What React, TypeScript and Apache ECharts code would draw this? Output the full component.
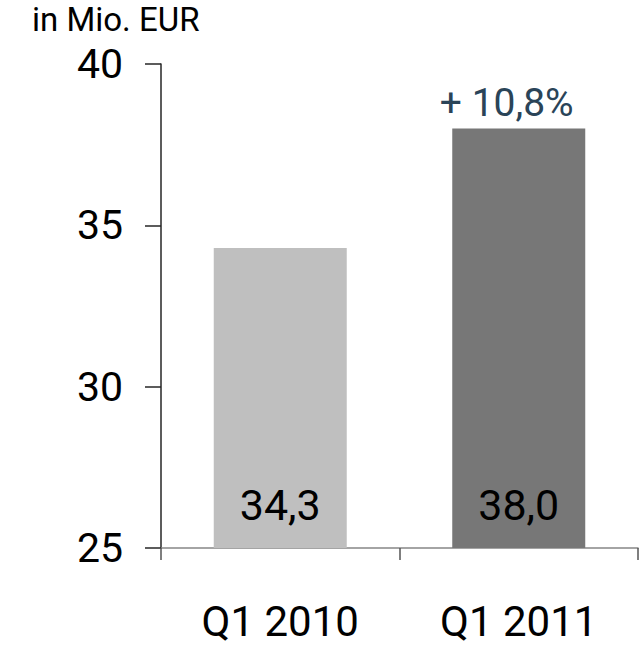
import React, { useEffect, useRef } from "react";
import * as echarts from "echarts";

const categories = ["Q1 2010", "Q1 2011"];
const values = [34.3, 38.0];
const valueLabels = ["34,3", "38,0"];
const barColors = ["#bfbfbf", "#777777"];
const growthLabel = "+ 10,8%";
const unitLabel = "in Mio. EUR";
const yMin = 25;
const yMax = 40;
const yInterval = 5;

const FONT = "Roboto";

export default function App() {
  const ref = useRef<HTMLDivElement>(null);
  useEffect(() => {
    document.body.style.margin = "0";
    const chart = echarts.init(ref.current!, null, { renderer: "svg" });
    chart.setOption({
      animation: false,
      textStyle: { fontFamily: FONT },
      grid: { left: 161, right: 3, top: 64, bottom: 98, containLabel: false },
      graphic: [
        {
          type: "text",
          left: 32,
          top: 3,
          style: {
            text: unitLabel,
            font: `33px "${FONT}"`,
            fill: "#000",
          },
        },
      ],
      xAxis: {
        type: "category",
        data: categories,
        axisLine: { lineStyle: { color: "#868686", width: 1.5 } },
        axisTick: { show: true, length: 12, lineStyle: { color: "#555555", width: 1.5 } },
        axisLabel: {
          fontSize: 42,
          color: "#000",
          margin: 52,
          fontFamily: FONT,
        },
      },
      yAxis: {
        type: "value",
        min: yMin,
        max: yMax,
        interval: yInterval,
        splitLine: { show: false },
        axisLine: { show: true, lineStyle: { color: "#262626", width: 1.5 } },
        axisTick: { show: true, length: 16, lineStyle: { color: "#262626", width: 1.5 } },
        axisLabel: {
          fontSize: 41,
          color: "#000",
          margin: 38,
          fontFamily: FONT,
        },
      },
      series: [
        {
          type: "bar",
          barWidth: 133,
          data: values.map((v, i) => ({
            value: v,
            itemStyle: { color: barColors[i] },
          })),
          label: {
            show: true,
            position: "insideBottom",
            distance: 22,
            fontSize: 43,
            color: "#000",
            fontFamily: FONT,
            formatter: (p: any) => valueLabels[p.dataIndex],
          },
          markPoint: {
            symbol: "circle",
            symbolSize: 0,
            data: [
              {
                coord: [categories[1], values[1]],
                label: {
                  show: true,
                  position: "top",
                  distance: 6,
                  offset: [-12, 0],
                  formatter: growthLabel,
                  fontSize: 39,
                  color: "#2a4458",
                  fontFamily: FONT,
                },
              },
            ],
          },
        },
      ],
    });
    return () => chart.dispose();
  }, []);
  return <div ref={ref} style={{ width: 641, height: 646 }} />;
}
